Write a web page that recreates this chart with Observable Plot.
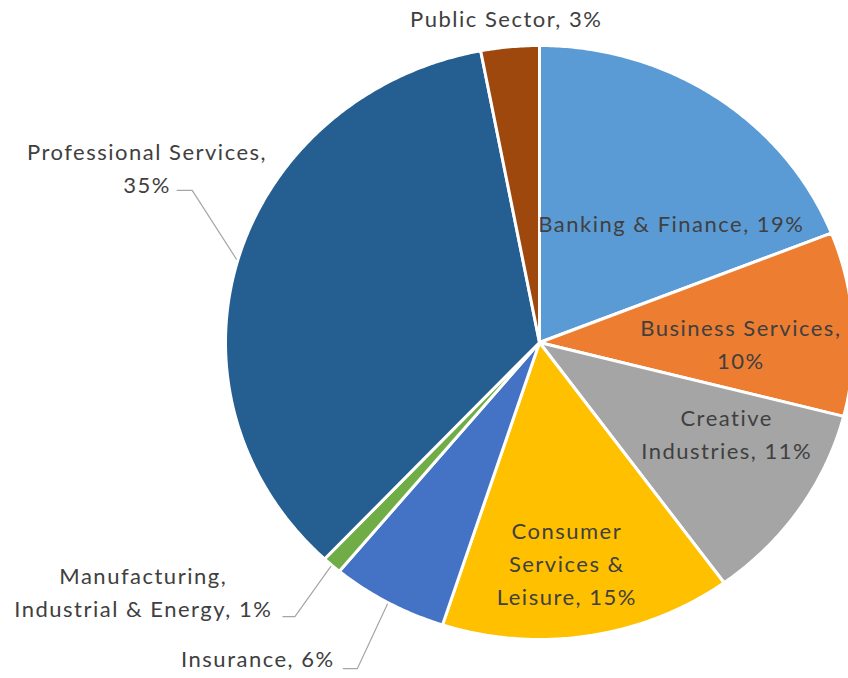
<!DOCTYPE html>
<html>
<head>
<meta charset="utf-8">
<script src="https://cdn.jsdelivr.net/npm/d3@7"></script>
<script src="https://cdn.jsdelivr.net/npm/@observablehq/plot@0.6"></script>
<style>
  html, body { margin: 0; padding: 0; background: #fff; }
  #chart { width: 848px; height: 678px; }
  #chart svg text { letter-spacing: 1.5px; }
</style>
</head>
<body>
<div id="chart"></div>
<script>
// ---- data ----
const categories = [
  "Banking & Finance",
  "Business Services",
  "Creative Industries",
  "Consumer Services & Leisure",
  "Insurance",
  "Manufacturing, Industrial & Energy",
  "Professional Services",
  "Public Sector"
];
const shares = [19, 10, 11, 15, 6, 1, 35, 3];
const labelTexts = [
  "Banking & Finance, 19%",
  "Business Services,\n10%",
  "Creative\nIndustries, 11%",
  "Consumer\nServices &\nLeisure, 15%",
  "Insurance, 6%",
  "Manufacturing,\nIndustrial & Energy, 1%",
  "Professional Services,\n35%",
  "Public Sector, 3%"
];
const colors = ["#5B9BD5", "#ED7D31", "#A5A5A5", "#FFC000", "#4472C4", "#70AD47", "#255E91", "#9E480E"];

// ---- layout (label anchors in pie-radius units; leader elbows) ----
const labelPos = [
  [0.420, -0.394], [0.641, 0.013], [0.596, 0.316], [0.087, 0.751],
  [-0.897, 1.071], [-1.262, 0.845], [-1.250, -0.582], [-0.106, -1.084]
];
const leaders = { // index -> [start, elbow]
  4: [[-0.625, 1.098], [-0.580, 1.098]],
  5: [[-0.817, 0.923], [-0.779, 0.923]],
  6: [[-1.154, -0.512], [-1.106, -0.512]]
};

const pie = d3.pie().sort(null).value(d => d.share).startAngle(0).endAngle(2 * Math.PI);
const rows = categories.map((c, i) => ({category: c, share: shares[i], label: labelTexts[i], i}));
const arcs = pie(rows);

// slice polygons
const slicePts = [];
arcs.forEach(a => {
  const c = a.data.category;
  slicePts.push({category: c, u: 0, v: 0});
  const n = Math.max(2, Math.ceil((a.endAngle - a.startAngle) / (Math.PI / 360)));
  for (let k = 0; k <= n; k++) {
    const t = a.startAngle + (a.endAngle - a.startAngle) * k / n;
    slicePts.push({category: c, u: Math.sin(t), v: -Math.cos(t)});
  }
  slicePts.push({category: c, u: 0, v: 0});
});

// labels
const labels = arcs.map((a, i) => ({text: a.data.label, u: labelPos[i][0], v: labelPos[i][1]}));

// leader lines
const leaderPts = [];
Object.entries(leaders).forEach(([idx, [s, e]]) => {
  const a = arcs[+idx];
  const m = (a.startAngle + a.endAngle) / 2;
  leaderPts.push({id: idx, u: s[0], v: s[1]});
  leaderPts.push({id: idx, u: e[0], v: e[1]});
  leaderPts.push({id: idx, u: Math.sin(m) * 1.005, v: -Math.cos(m) * 1.005});
});

const W = 848, H = 678, CX = 539, CY = 342, RX = 314, RY = 297;

const chart = Plot.plot({
  width: W,
  height: H,
  margin: 0,
  x: {domain: [-CX / RX, (W - CX) / RX], range: [0, W], axis: null},
  y: {domain: [-CY / RY, (H - CY) / RY], range: [0, H], axis: null},
  color: {domain: categories, range: colors},
  style: {background: "#fff"},
  marks: [
    Plot.line(slicePts, {
      x: "u", y: "v", z: "category",
      fill: "category", stroke: "#fff", strokeWidth: 3, strokeLinejoin: "round"
    }),
    Plot.line(leaderPts, {x: "u", y: "v", z: "id", stroke: "#a6a6a6", strokeWidth: 1.2}),
    Plot.text(labels, {
      x: "u", y: "v", text: "text", dy: -4,
      fontSize: 22, lineHeight: 1.5, fill: "#404040",
      fontFamily: "Lato, 'Open Sans', sans-serif",
      textAnchor: "middle"
    })
  ]
});
document.getElementById("chart").appendChild(chart);
</script>
</body>
</html>
